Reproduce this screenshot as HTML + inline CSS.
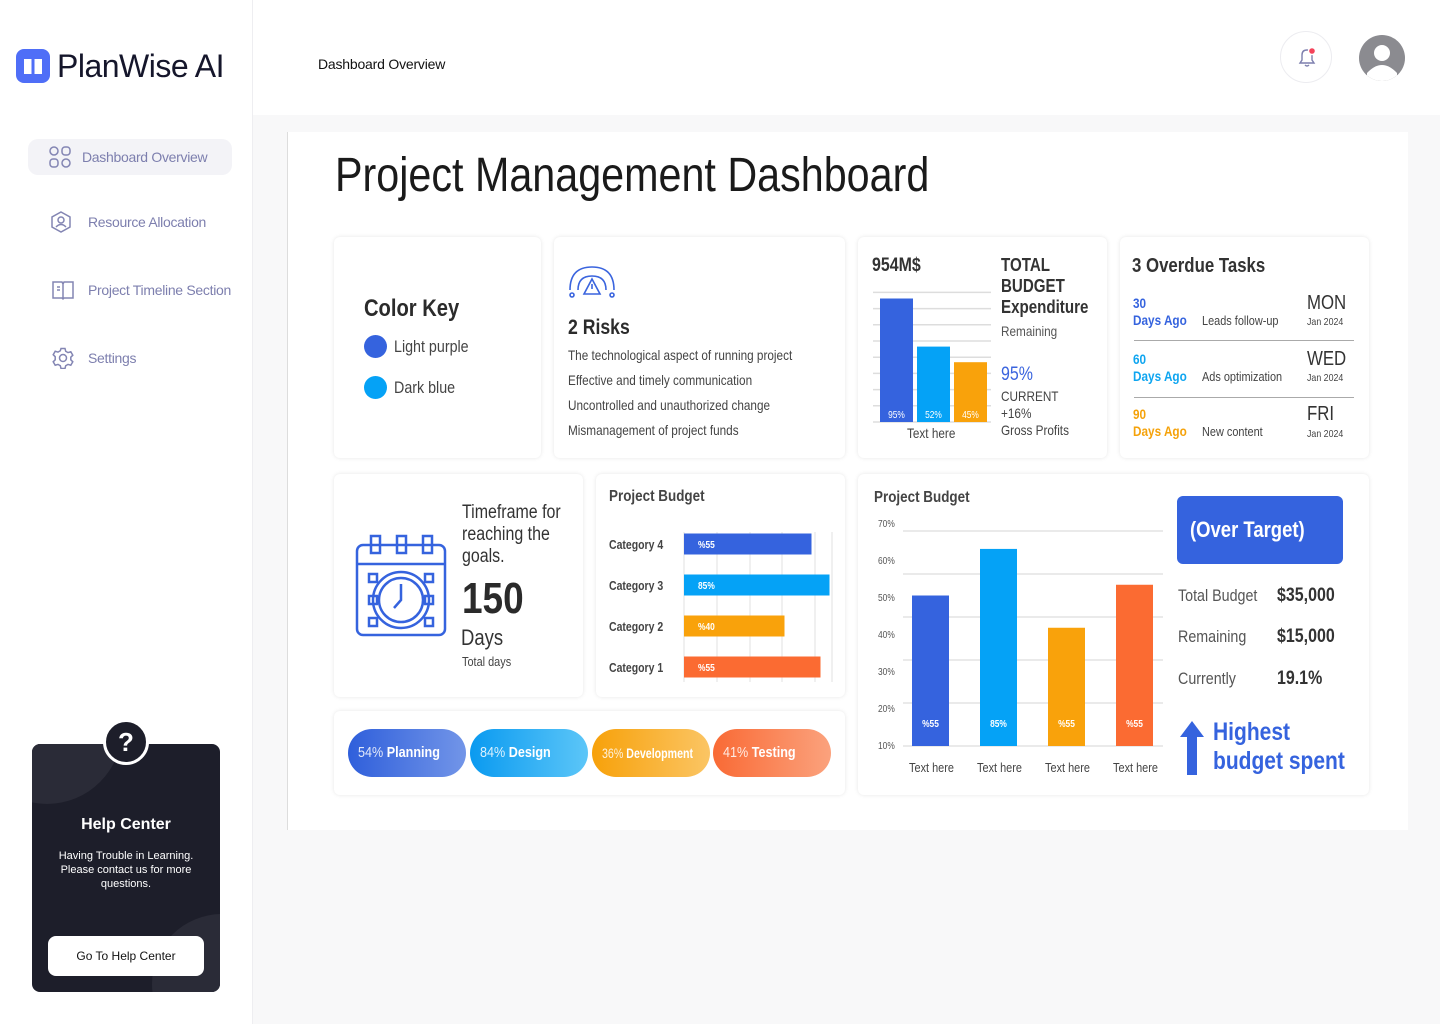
<!DOCTYPE html>
<html><head><meta charset="utf-8">
<style>
*{box-sizing:border-box;margin:0;padding:0}
body{width:1440px;height:1024px;position:relative;background:#f8f8f9;font-family:"Liberation Sans",sans-serif;overflow:hidden;color:#222}
.abs{position:absolute}
.nar{transform:scaleX(.84);transform-origin:0 0}
span.nar{display:inline-block;transform-origin:0 50%}
#sidebar{left:0;top:0;width:253px;height:1024px;background:#fff;border-right:1px solid #eeeef1}
#header{left:253px;top:0;width:1187px;height:115px;background:#fff}
.nav{position:absolute;left:28px;height:36px;width:204px;border-radius:10px;font-size:14px;color:#7d7fae;display:flex;align-items:center;white-space:nowrap;letter-spacing:-0.3px}
.card{position:absolute;background:#fff;border-radius:6px;box-shadow:0 0 4px rgba(0,0,0,.10)}
.t{position:absolute;white-space:nowrap}
.pill{position:absolute;top:18px;width:118px;height:48px;border-radius:24px;color:#fff;font-size:15px;line-height:48px;padding-left:10px;white-space:nowrap;overflow:hidden}
</style></head><body>
<div id="sidebar" class="abs">
  <div class="abs" style="left:16px;top:49px;width:34px;height:34px;border-radius:8px;background:#4f6ef7">
    <svg width="34" height="34" viewBox="0 0 34 34"><path d="M8 10 L15.5 10 L15.5 25 L8 25Z M18.5 10 L26 10 L26 25 L18.5 25Z" fill="#fff"/></svg>
  </div>
  <div class="t" style="left:57px;top:48px;font-size:32px;font-weight:500;color:#15162b;letter-spacing:-0.5px">PlanWise AI</div>
  <div class="nav" style="top:139px;background:#f3f3f7">
    <svg style="margin-left:20px" width="24" height="24" viewBox="0 0 24 24" fill="none" stroke="#8385b3" stroke-width="1.5"><circle cx="6" cy="6" r="4"/><rect x="14" y="2" width="8" height="8" rx="3"/><rect x="2" y="14" width="8" height="8" rx="3"/><circle cx="18" cy="18" r="4"/></svg>
    <span style="margin-left:10px">Dashboard Overview</span></div>
  <div class="nav" style="top:204px">
    <svg style="margin-left:22px" width="22" height="22" viewBox="0 0 22 22" fill="none" stroke="#8385b3" stroke-width="1.5"><path d="M11 1 L20 6 L20 16 L11 21 L2 16 L2 6Z"/><circle cx="11" cy="9" r="3"/><path d="M6 16 Q11 11 16 16"/></svg>
    <span style="margin-left:16px">Resource Allocation</span></div>
  <div class="nav" style="top:272px">
    <svg style="margin-left:24px" width="22" height="22" viewBox="0 0 22 22" fill="none" stroke="#8385b3" stroke-width="1.5"><path d="M1 3 L10 3 L11 5 L12 3 L21 3 L21 19 L12 19 L11 20 L10 19 L1 19Z M11 5 L11 19 M5 8 L8 8 M5 11 L8 11"/></svg>
    <span style="margin-left:14px">Project Timeline Section</span></div>
  <div class="nav" style="top:340px">
    <svg style="margin-left:24px" width="22" height="22" viewBox="0 0 22 22" fill="none" stroke="#8385b3" stroke-width="1.5"><circle cx="11" cy="11" r="3.5"/><path d="M9 1.5h4l.7 2.8 2.3 1.3 2.8-.8 2 3.4-2 2v2.6l2 2-2 3.4-2.8-.8-2.3 1.3-.7 2.8H9l-.7-2.8-2.3-1.3-2.8.8-2-3.4 2-2V9.7l-2-2 2-3.4 2.8.8 2.3-1.3z"/></svg>
    <span style="margin-left:14px">Settings</span></div>
  <div class="abs" style="left:32px;top:744px;width:188px;height:248px;background:#1d1e2a;border-radius:8px;overflow:hidden">
    <div class="abs" style="left:-60px;top:-90px;width:150px;height:150px;border-radius:50%;background:#2a2b37"></div>
    <div class="abs" style="left:120px;top:170px;width:140px;height:140px;border-radius:50%;background:#2a2b37"></div>
    <div class="t" style="left:0;width:188px;text-align:center;top:72px;color:#fff;font-size:16px;font-weight:bold">Help Center</div>
    <div class="abs" style="left:10px;width:168px;text-align:center;top:105px;color:#fff;font-size:11px;line-height:14px">Having Trouble in Learning. Please contact us for more questions.</div>
    <div class="abs" style="left:16px;top:192px;width:156px;height:40px;background:#fff;border-radius:8px;font-size:12px;color:#111;text-align:center;line-height:40px">Go To Help Center</div>
  </div>
  <div class="abs" style="left:103px;top:719px;width:46px;height:46px;border-radius:50%;background:#1d1e2a;border:3px solid #fff;color:#fff;font-size:26px;font-weight:bold;text-align:center;line-height:40px">?</div>
</div>
<div id="header" class="abs">
  <div class="t" style="left:65px;top:56px;font-size:14px;color:#111;letter-spacing:-0.2px">Dashboard Overview</div>
  <div class="abs" style="left:1027px;top:31px;width:52px;height:52px;border-radius:50%;border:1px solid #ececf0;background:#fff">
    <svg width="52" height="52" viewBox="0 0 52 52" fill="none" stroke="#7d7fae" stroke-width="1.4"><path d="M19 31 L33 31 L31 28 L31 23 Q31 18 26 18 Q21 18 21 23 L21 28Z M24 33 Q26 35 28 33"/><circle cx="31" cy="19" r="3.5" fill="#f4435a" stroke="#fff"/></svg>
  </div>
  <div class="abs" style="left:1106px;top:35px;width:46px;height:46px;border-radius:50%;background:#8b8b90;overflow:hidden">
    <svg width="46" height="46" viewBox="0 0 46 46"><circle cx="23" cy="18" r="8" fill="#fff"/><path d="M8 38 Q23 22 38 38 L38 46 L8 46Z" fill="#fff"/></svg>
  </div>
</div>

<div class="abs" style="left:287px;top:132px;width:1121px;height:698px;background:#fff;border-left:1px solid #ddd"></div>
<div class="t" style="left:335px;top:148px;font-size:48px;color:#1a1a1a;transform:scaleX(.86);transform-origin:0 0">Project Management Dashboard</div>

<!-- Color key -->
<div class="card" style="left:334px;top:237px;width:207px;height:221px">
  <div class="t nar" style="left:30px;top:58px;font-size:24px;font-weight:bold;color:#2b2b2b">Color Key</div>
  <div class="abs" style="left:30px;top:98px;width:23px;height:23px;border-radius:50%;background:#3563de"></div>
  <div class="t nar" style="left:60px;top:100px;font-size:17px;color:#444">Light purple</div>
  <div class="abs" style="left:30px;top:139px;width:23px;height:23px;border-radius:50%;background:#05a2f6"></div>
  <div class="t nar" style="left:60px;top:141px;font-size:17px;color:#444">Dark blue</div>
</div>
<!-- Risks -->
<div class="card" style="left:554px;top:237px;width:291px;height:221px">
  <svg class="abs" style="left:13px;top:25px" width="50" height="40" viewBox="0 0 50 40" fill="none" stroke="#3a64de" stroke-width="1.6"><path d="M3 28 Q3 5 25 5 Q47 5 47 28 M11 28 Q11 14 25 14 Q39 14 39 28"/><path d="M25 17 L33 32 L17 32Z M25 22 L25 27"/><circle cx="5" cy="33" r="2"/><circle cx="45" cy="33" r="2"/></svg>
  <div class="t nar" style="left:14px;top:79px;font-size:21px;font-weight:bold;color:#2b2b2b">2 Risks</div>
  <div class="abs nar" style="left:14px;top:106px;font-size:14px;line-height:25px;color:#444;white-space:nowrap">The technological aspect of running project<br>Effective and timely communication<br>Uncontrolled and unauthorized change<br>Mismanagement of project funds</div>
</div>
<!-- Budget small chart -->
<div class="card" style="left:858px;top:237px;width:249px;height:221px">
  <div class="t nar" style="left:14px;top:18px;font-size:19px;font-weight:bold;color:#333">954M$</div>
  <svg id="smallChart" class="abs" style="left:0;top:0" width="140" height="221"></svg>
  <div class="t nar" style="left:49px;top:188px;font-size:14px;color:#444">Text here</div>
  <div class="abs nar" style="left:143px;top:18px;font-size:18px;font-weight:bold;color:#333;line-height:21px;white-space:nowrap">TOTAL<br>BUDGET<br>Expenditure</div>
  <div class="t nar" style="left:143px;top:86px;font-size:14px;color:#555">Remaining</div>
  <div class="t nar" style="left:143px;top:127px;font-size:19px;color:#3a64de">95%</div>
  <div class="abs nar" style="left:143px;top:151px;font-size:14px;color:#444;line-height:17px;white-space:nowrap">CURRENT<br>+16%<br>Gross Profits</div>
</div>
<!-- Overdue -->
<div class="card" style="left:1120px;top:237px;width:249px;height:221px">
  <div class="t nar" style="left:12px;top:18px;font-size:20px;font-weight:bold;color:#333">3 Overdue Tasks</div>
  <div class="abs" style="left:14px;top:103px;width:220px;height:1px;background:#aaa"></div>
  <div class="abs" style="left:14px;top:160px;width:220px;height:1px;background:#aaa"></div>
  <div class="abs nar" style="left:13px;top:58px;font-size:14px;font-weight:bold;color:#3563de;line-height:17px;white-space:nowrap">30<br>Days Ago</div>
  <div class="t nar" style="left:82px;top:76px;font-size:13px;color:#444">Leads follow-up</div>
  <div class="t nar" style="left:187px;top:55px;font-size:20px;color:#333">MON</div>
  <div class="t nar" style="left:187px;top:79px;font-size:10.5px;color:#444">Jan 2024</div>
  <div class="abs nar" style="left:13px;top:114px;font-size:14px;font-weight:bold;color:#0ea5f0;line-height:17px;white-space:nowrap">60<br>Days Ago</div>
  <div class="t nar" style="left:82px;top:132px;font-size:13px;color:#444">Ads optimization</div>
  <div class="t nar" style="left:187px;top:111px;font-size:20px;color:#333">WED</div>
  <div class="t nar" style="left:187px;top:135px;font-size:10.5px;color:#444">Jan 2024</div>
  <div class="abs nar" style="left:13px;top:169px;font-size:14px;font-weight:bold;color:#f5a20a;line-height:17px;white-space:nowrap">90<br>Days Ago</div>
  <div class="t nar" style="left:82px;top:187px;font-size:13px;color:#444">New content</div>
  <div class="t nar" style="left:187px;top:166px;font-size:20px;color:#333">FRI</div>
  <div class="t nar" style="left:187px;top:191px;font-size:10.5px;color:#444">Jan 2024</div>
</div>
<!-- Timeframe -->
<div class="card" style="left:334px;top:474px;width:249px;height:223px">
  <svg class="abs" style="left:20px;top:60px" width="96" height="104" viewBox="0 0 96 104" fill="none" stroke="#3563de" stroke-width="2.5"><rect x="3" y="11" width="88" height="90" rx="6"/><path d="M3 30 L91 30"/><rect x="17" y="2" width="9" height="17"/><rect x="43" y="2" width="9" height="17"/><rect x="69" y="2" width="9" height="17"/><circle cx="47" cy="66" r="28"/><circle cx="47" cy="66" r="22"/><path d="M47 50 L47 66 L40 74"/><rect x="15" y="40" width="8" height="8"/><rect x="71" y="40" width="8" height="8"/><rect x="15" y="84" width="8" height="8"/><rect x="71" y="84" width="8" height="8"/><rect x="15" y="62" width="8" height="8"/><rect x="71" y="62" width="8" height="8"/></svg>
  <div class="abs nar" style="left:128px;top:28px;font-size:19px;color:#333;line-height:22px;white-space:nowrap">Timeframe for<br>reaching the<br>goals.</div>
  <div class="t nar" style="left:128px;top:100px;font-size:44px;font-weight:bold;color:#2a2a2a">150</div>
  <div class="t nar" style="left:127px;top:151px;font-size:22px;color:#333">Days</div>
  <div class="t nar" style="left:128px;top:180px;font-size:13px;color:#444">Total days</div>
</div>
<!-- H bar -->
<div class="card" style="left:596px;top:474px;width:249px;height:223px">
  <div class="t nar" style="left:13px;top:14px;font-size:16px;font-weight:bold;color:#444">Project Budget</div>
  <svg id="hbarChart" class="abs" style="left:0;top:0" width="249" height="223"></svg>
</div>
<!-- Pills -->
<div class="card" style="left:334px;top:711px;width:511px;height:84px">
  <div class="pill" style="left:14px;background:linear-gradient(90deg,#2f5fdb,#7295e8)"><span class="nar"><span style="opacity:.85">54%</span> <b>Planning</b></span></div>
  <div class="pill" style="left:136px;background:linear-gradient(90deg,#0a9af0,#5cc6f8)"><span class="nar"><span style="opacity:.85">84%</span> <b>Design</b></span></div>
  <div class="pill" style="left:258px;background:linear-gradient(90deg,#f7a10a,#fbc564);font-size:14px"><span class="nar" style="transform:scaleX(.76)"><span style="opacity:.85">36%</span> <b>Development</b></span></div>
  <div class="pill" style="left:379px;background:linear-gradient(90deg,#f96a35,#fba27d)"><span class="nar"><span style="opacity:.85">41%</span> <b>Testing</b></span></div>
</div>
<!-- Big chart -->
<div class="card" style="left:858px;top:474px;width:511px;height:321px">
  <div class="t nar" style="left:16px;top:15px;font-size:16px;font-weight:bold;color:#444">Project Budget</div>
  <svg id="bigChart" class="abs" style="left:0;top:0" width="310" height="321"></svg>
  <div class="abs" style="left:319px;top:22px;width:166px;height:68px;background:#3563de;border-radius:6px;color:#fff;font-size:22px;font-weight:bold;line-height:68px;padding-left:13px;white-space:nowrap"><span class="nar">(Over Target)</span></div>
  <div class="t nar" style="left:320px;top:112px;font-size:17px;color:#555">Total Budget</div>
  <div class="t nar" style="left:419px;top:111px;font-size:19px;font-weight:bold;color:#333">$35,000</div>
  <div class="t nar" style="left:320px;top:153px;font-size:17px;color:#555">Remaining</div>
  <div class="t nar" style="left:419px;top:152px;font-size:19px;font-weight:bold;color:#333">$15,000</div>
  <div class="t nar" style="left:320px;top:195px;font-size:17px;color:#555">Currently</div>
  <div class="t nar" style="left:419px;top:194px;font-size:19px;font-weight:bold;color:#333">19.1%</div>
  <svg class="abs" style="left:322px;top:247px" width="24" height="54" viewBox="0 0 24 54"><path d="M12 0 L24 16 L17 16 L17 54 L7 54 L7 16 L0 16Z" fill="#3563de"/></svg>
  <div class="abs nar" style="left:355px;top:244px;font-size:25px;font-weight:bold;color:#3563de;line-height:29px;white-space:nowrap">Highest<br>budget spent</div>
</div>

<script>
const NS="http://www.w3.org/2000/svg";
function mk(svg,tag,attrs,txt){const e=document.createElementNS(NS,tag);for(const k in attrs)e.setAttribute(k,attrs[k]);if(txt!==undefined)e.textContent=txt;svg.appendChild(e);return e;}
function cond(e,x){e.setAttribute('transform','translate('+x+',0) scale(0.84,1) translate('+(-x)+',0)');}

// small budget chart
const smallValues=[95,58,46];
const smallLabels=["95%","52%","45%"];
const smallColors=["#3563de","#05a2f6","#f9a20b"];
(function(){
  const s=document.getElementById('smallChart');
  const base=185, h=130, x0=22, bw=33, gap=4;
  const ys=v=>base-v/100*h;
  for(let i=0;i<9;i++){const l=mk(s,'line',{x1:15,x2:133,y1:base-i*16.2,y2:base-i*16.2,stroke:'#ddd','stroke-width':1.5});
    }
  smallValues.forEach((v,i)=>{
    const x=x0+i*(bw+gap);
    const r=mk(s,'rect',{x:x,y:ys(v),width:bw,height:base-ys(v),fill:smallColors[i]});
    
    
    const t=mk(s,'text',{x:x+bw/2,y:base-4,'text-anchor':'middle','font-size':10,fill:'#fff','font-family':'Liberation Sans, sans-serif'},smallLabels[i]);
    cond(t,x+bw/2);
    
    
  });
})();

// horizontal bar chart
const hCats=["Category 4","Category 3","Category 2","Category 1"];
const hValues=[85,97,67,91];
const hLabels=["%55","85%","%40","%55"];
const hColors=["#3563de","#05a2f6","#f9a20b","#fb6b32"];
(function(){
  const s=document.getElementById('hbarChart');
  const x0=88, w=150, top=70, step=41, bh=21;
  [0,33,66,98,131,148].forEach(dx=>{const l=mk(s,'line',{x1:x0+dx,x2:x0+dx,y1:58,y2:208,stroke:'#e6e6e6','stroke-width':1.2});
    });
  hValues.forEach((v,i)=>{
    const cy=top+i*step;
    const c=mk(s,'text',{x:13,y:cy+5,'font-size':12.5,fill:'#444','font-weight':'bold','font-family':'Liberation Sans, sans-serif'},hCats[i]);
    cond(c,13);
    
    
    const r=mk(s,'rect',{x:x0,y:cy-bh/2,width:v/100*w,height:bh,fill:hColors[i]});
    
    
    const t=mk(s,'text',{x:x0+14,y:cy+4,'font-size':10,fill:'#fff','font-weight':'bold','font-family':'Liberation Sans, sans-serif'},hLabels[i]);
    cond(t,x0+14);
    
    
  });
})();

// big column chart
const bigCats=["Text here","Text here","Text here","Text here"];
const bigValues=[52,65,43,55];
const bigLabels=["%55","85%","%55","%55"];
const bigTicks=["70%","60%","50%","40%","30%","20%","10%"];
const bigColors=["#3563de","#05a2f6","#f9a20b","#fb6b32"];
(function(){
  const s=document.getElementById('bigChart');
  const yBase=272, yTop=57, vMin=10, vMax=70;
  const y=v=>yBase-(v-vMin)/(vMax-vMin)*(yBase-yTop);
  for(let i=0;i<6;i++){const gy=yTop+i*(yBase-yTop)/5;const l=mk(s,'line',{x1:45,x2:305,y1:gy,y2:gy,stroke:'#ddd','stroke-width':1.3});
    }
  bigTicks.forEach((tk,i)=>{const t=mk(s,'text',{x:20,y:53+i*37,'font-size':10,fill:'#555','font-family':'Liberation Sans, sans-serif'},tk);
    cond(t,20);
    });
  bigValues.forEach((v,i)=>{
    const x=54+i*68, bw=37;
    const r=mk(s,'rect',{x:x,y:y(v),width:bw,height:yBase-y(v),fill:bigColors[i]});
    
    
    const t=mk(s,'text',{x:x+bw/2,y:253,'text-anchor':'middle','font-size':10,fill:'#fff','font-weight':'bold','font-family':'Liberation Sans, sans-serif'},bigLabels[i]);
    cond(t,x+bw/2);
    
    
    const c=mk(s,'text',{x:x+bw/2+1,y:298,'text-anchor':'middle','font-size':13,fill:'#444','font-family':'Liberation Sans, sans-serif'},bigCats[i]);
    cond(c,x+bw/2+1);
    
    
  });
})();
</script>
</body></html>
